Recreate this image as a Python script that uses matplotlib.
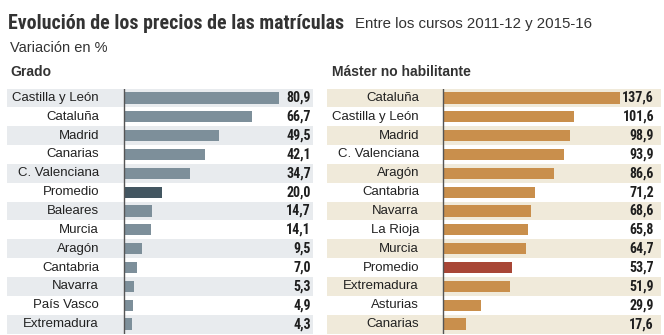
import matplotlib.pyplot as plt
from matplotlib import font_manager as fm

# Grado
grado_cat = ["Castilla y León", "Cataluña", "Madrid", "Canarias", "C. Valenciana",
             "Promedio", "Baleares", "Murcia", "Aragón", "Cantabria", "Navarra",
             "País Vasco", "Extremadura"]
grado_val = [80.9, 66.7, 49.5, 42.1, 34.7, 20.0, 14.7, 14.1, 9.5, 7.0, 5.3, 4.9, 4.3]

# Máster no habilitante
master_cat = ["Cataluña", "Castilla y León", "Madrid", "C. Valenciana", "Aragón",
              "Cantabria", "Navarra", "La Rioja", "Murcia", "Promedio",
              "Extremadura", "Asturias", "Canarias"]
master_val = [137.6, 101.6, 98.9, 93.9, 86.6, 71.2, 68.6, 65.8, 64.7, 53.7, 51.9, 29.9, 17.6]

W, H = 664, 335

# pick a condensed family that really has a bold face
bold_fams = {f.name for f in fm.fontManager.ttflist if f.weight in (700, "bold")}
NARROW = None
for cand in ["Roboto Condensed", "Fira Sans Condensed", "IBM Plex Sans Condensed",
             "Archivo Narrow", "Barlow Semi Condensed", "PT Sans Narrow",
             "Encode Sans Condensed", "Saira SemiCondensed"]:
    if cand in bold_fams:
        NARROW = [cand, "DejaVu Sans"]
        break
if NARROW is None:
    NARROW = ["Archivo Narrow", "DejaVu Sans"]

plt.rcParams["font.family"] = ["Liberation Sans", "DejaVu Sans"]

fig = plt.figure(figsize=(W / 100, H / 100), dpi=100)


def panel(cats, vals, x0, x1, xaxis, scale, lab_x, val_x, band, bar, bar_avg):
    top, bottom = 88.5, 333.5
    ax = fig.add_axes([x0 / W, 1 - bottom / H, (x1 - x0) / W, (bottom - top) / H])
    # zero of the value scale sits at pixel column xaxis
    ax.set_xlim(-(xaxis - x0) / scale, (x1 - xaxis) / scale)
    n = len(cats)
    ax.set_ylim(n - 0.5, -0.5)
    ax.axis("off")
    tr = ax.get_yaxis_transform()
    for i, (c, v) in enumerate(zip(cats, vals)):
        if i % 2 == 0:
            ax.axhspan(i - 0.5, i + 0.5, color=band, lw=0, zorder=0)
        col = bar_avg if c == "Promedio" else bar
        ax.barh(i, v, height=0.6, color=col, lw=0, zorder=2)
        ax.text((lab_x - x0) / (x1 - x0), i, c, transform=tr, ha="right",
                va="center", fontsize=9.5, color="#222222")
        ax.text((val_x - x0) / (x1 - x0), i, f"{v:.1f}".replace(".", ","),
                transform=tr, ha="right", va="center", fontsize=10,
                fontweight="bold", color="#1e1e1e", family=NARROW)
    ax.axvline(0, color="#555555", lw=1, zorder=3)
    return ax


panel(grado_cat, grado_val, 7, 313, 124, 155 / 80.9, 99, 311,
      "#e8ebee", "#7d8f9a", "#435661")
panel(master_cat, master_val, 327, 661, 443, 177 / 137.6, 419, 654,
      "#f0eada", "#c98f4c", "#a84636")

fig.text(8 / W, 1 - 29 / H, "Evolución de los precios de las matrículas",
         fontsize=14.3, fontweight="bold", color="#333333", family=NARROW)
fig.text(355 / W, 1 - 28 / H, "Entre los cursos 2011-12 y 2015-16",
         fontsize=10.8, color="#333333")
fig.text(10 / W, 1 - 52 / H, "Variación en %", fontsize=10.5, color="#333333")
fig.text(10 / W, 1 - 76 / H, "Grado", fontsize=10, fontweight="bold", color="#333333")
fig.text(332 / W, 1 - 76 / H, "Máster no habilitante", fontsize=10,
         fontweight="bold", color="#333333")

fig.savefig("out.png", dpi=100)
